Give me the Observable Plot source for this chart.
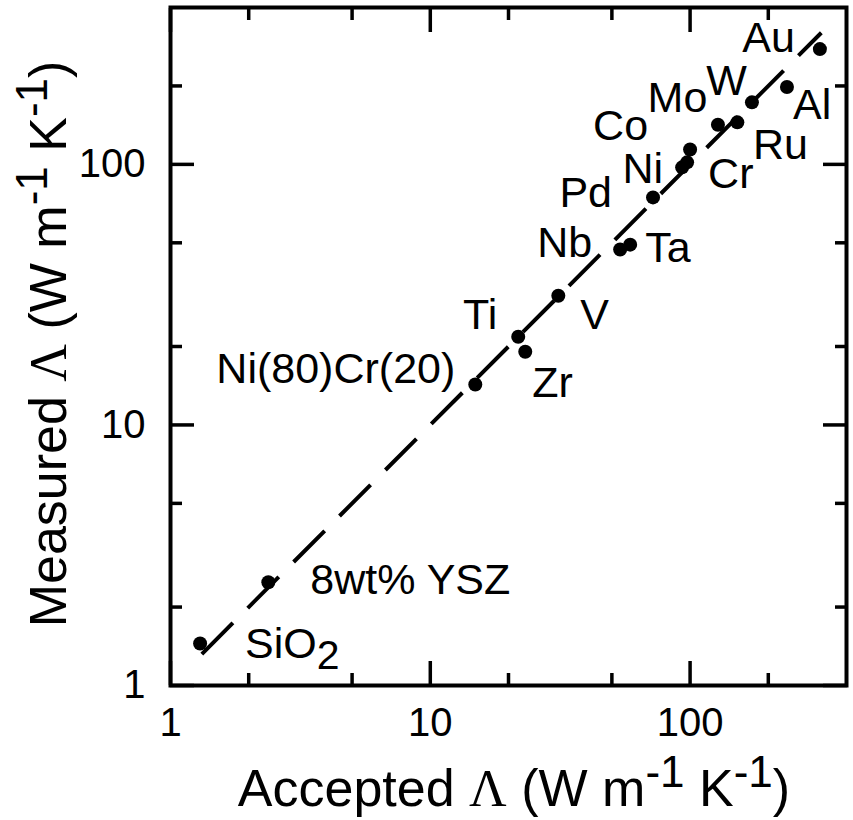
<!DOCTYPE html>
<html><head><meta charset="utf-8">
<script src="https://cdn.jsdelivr.net/npm/d3@7"></script>
<script src="https://cdn.jsdelivr.net/npm/@observablehq/plot@0.6"></script>
<style>body{margin:0;background:#fff}</style>
</head><body><div id="chart"></div>
<script>
// ---- data ----
const materials = ["SiO2","8wt% YSZ","Ni(80)Cr(20)","Ti","Zr","V","Nb","Ta","Pd","Ni","Cr","Co","Ru","Mo","W","Al","Au"];
const accepted  = [1.30, 2.38, 14.9, 21.8, 23.2, 31.1, 53.8, 58.8, 72.0, 93.2, 97.4, 100, 128, 152, 173, 236, 316];
const measured  = [1.45, 2.49, 14.3, 21.8, 19.1, 31.3, 47.1, 49.2, 74.7, 97.4, 101.8, 114, 142, 145, 173, 198, 277];
const fitX = [1.32, 320];
const fitY = [1.32, 320];
const majorTicks = [1, 10, 100];
const minorTicks = [2, 5, 20, 50, 200];
const xLabelParts = ["Accepted ", "Λ", " (W m", "-1", " K", "-1", ")"];
const yLabelParts = ["Measured ", "Λ", " (W m", "-1", " K", "-1", ")"];

// ---- label layout (pixel offsets from each point) ----
const labelDx = [45, 42, -20, -21, 7, 22, -28, 15, -41, -19, 21, -42, 35, -30, -5, 6, -25];
const labelDy = [1, -2, -15, -22, 32, 19, -6, 4, -4, 2, 12, -23, 21, -24, -21, 18, -11];
const labelAnchor = ["start","start","end","end","start","start","end","start","end","end","start","end","start","end","end","start","end"];

const font = "'Liberation Sans', Arial, Helvetica, sans-serif";
const points = materials.map((name, i) => ({name, accepted: accepted[i], measured: measured[i], i}));
const fit = fitX.map((x, i) => ({x, y: fitY[i]}));

function tickMarks(ticks, size) {
  const o = {tickSize: -size, tickFormat: () => "", label: null, strokeWidth: 3.5, strokeLinecap: "butt"};
  return [
    Plot.axisX(ticks, {anchor: "bottom", ...o}),
    Plot.axisX(ticks, {anchor: "top", ...o}),
    Plot.axisY(ticks, {anchor: "left", ...o}),
    Plot.axisY(ticks, {anchor: "right", ...o})
  ];
}

const chart = Plot.plot({
  width: 853,
  height: 820,
  marginLeft: 170,
  marginRight: 7,
  marginTop: 7,
  marginBottom: 135,
  style: {fontFamily: font, color: "black", background: "white"},
  x: {type: "log", domain: [1, 400]},
  y: {type: "log", domain: [1, 400]},
  marks: [
    Plot.line(fit, {x: "x", y: "y", stroke: "black", strokeWidth: 4, strokeDasharray: "44,21", strokeLinecap: "butt"}),
    Plot.dot(points, {x: "accepted", y: "measured", r: 7, fill: "black"}),
    ...points.map((p, i) => Plot.text([p], {
      x: "accepted", y: "measured", text: "name",
      dx: labelDx[i], dy: labelDy[i], textAnchor: labelAnchor[i],
      fontSize: 43, fill: "black"
    })),
    ...tickMarks(majorTicks, 24),
    ...tickMarks(minorTicks, 12),
    Plot.axisX(majorTicks, {anchor: "bottom", tickSize: 0, tickPadding: 22, fontSize: 40, tickFormat: d => String(d), label: null}),
    Plot.axisY(majorTicks, {anchor: "left", tickSize: 0, tickPadding: 25, fontSize: 40, tickFormat: d => String(d), label: null}),
    Plot.frame({stroke: "black", strokeWidth: 4})
  ]
});

document.getElementById("chart").appendChild(chart);
const svg = d3.select(chart);

// subscript in SiO2
svg.selectAll("text").filter(function() { return this.textContent === "SiO2"; })
  .each(function() {
    const t = d3.select(this);
    t.text("SiO");
    t.append("tspan").attr("dy", 11).attr("font-size", 41).text("2");
  });

function axisLabel(g, parts) {
  const t = g.append("text").attr("text-anchor", "middle").attr("font-family", font)
    .attr("font-size", 52).attr("fill", "black");
  let raised = false;
  parts.forEach((s) => {
    const sp = t.append("tspan").text(s);
    if (s === "Λ") sp.attr("font-family", "'Liberation Serif', 'Times New Roman', serif");
    if (s === "-1") { sp.attr("font-size", 44).attr("dy", -19); raised = true; }
    else if (raised) { sp.attr("dy", 19); raised = false; }
  });
  return t;
}
axisLabel(svg.append("g").attr("transform", "translate(514,806)"), xLabelParts);
axisLabel(svg.append("g").attr("transform", "translate(66,344) rotate(-90)"), yLabelParts);
</script>
</body></html>
